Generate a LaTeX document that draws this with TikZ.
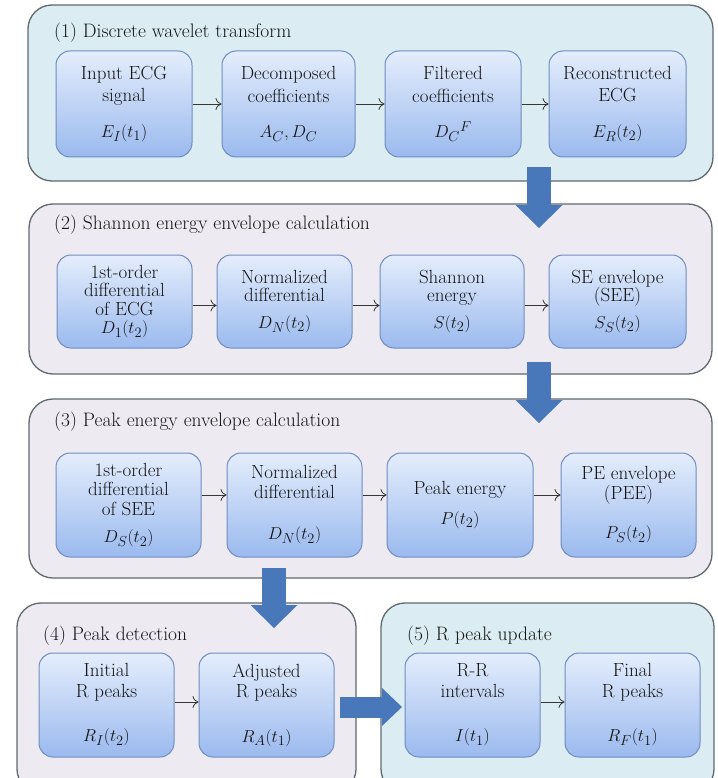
\documentclass[tikz,border=0pt]{standalone}
\usetikzlibrary{arrows.meta}
\definecolor{pblue}{RGB}{219,237,242}
\definecolor{pgray}{RGB}{237,235,241}
\definecolor{pborder}{RGB}{95,105,110}
\definecolor{btop}{RGB}{228,237,252}
\definecolor{bbot}{RGB}{155,186,238}
\definecolor{bborder}{RGB}{112,140,192}
\definecolor{barrow}{RGB}{72,120,185}
\definecolor{txt}{RGB}{20,20,20}
\begin{document}
\begin{tikzpicture}[x=1pt,y=-1pt,
 panel/.style={draw=pborder, line width=1.3pt, rounded corners=24pt, inner sep=0pt},
 bluepanel/.style={panel, fill=pblue},
 graypanel/.style={panel, fill=pgray},
 box/.style={draw=bborder, line width=1pt, rounded corners=14pt, top color=btop, bottom color=bbot, align=center, inner sep=0pt, text=txt},
 rowa/.style={box, minimum height=106pt, font=\fontsize{19}{22.5}\selectfont},
 rowb/.style={box, minimum height=93pt, font=\fontsize{19}{18.5}\selectfont},
 rowc/.style={box, minimum height=104pt, font=\fontsize{19}{19.5}\selectfont},
 rowd/.style={box, minimum height=104pt, font=\fontsize{19}{20.5}\selectfont},
 paneltitle/.style={anchor=west, inner sep=0pt, text=txt, font=\fontsize{19.5}{20}\selectfont},
 smallarrow/.style={-{To[length=6pt,width=12pt]}, line width=0.8pt, draw=txt!85},
 bigarrow/.style={draw=barrow, line width=24pt, -{Triangle[width=47pt,length=23pt,line width=0pt]}},
 sidearrow/.style={draw=barrow, line width=21pt, -{Triangle[width=38pt,length=20pt,line width=0pt]}},
]
\useasboundingbox (0,0) rectangle (717,778);
\clip (0,0) rectangle (717,778);

% panels
\node[bluepanel, minimum width=685pt, minimum height=176pt] (p1) at (370.5,93) {};
\node[graypanel, minimum width=683pt, minimum height=170pt] (p2) at (370.5,289) {};
\node[graypanel, minimum width=683pt, minimum height=179pt] (p3) at (370.5,488.5) {};
\node[graypanel, minimum width=339pt, minimum height=190pt] (p4) at (186.5,698) {};
\node[bluepanel, minimum width=333pt, minimum height=190pt] (p5) at (547.5,698) {};

% titles
\node[paneltitle] (t1) at (54,33) {(1) Discrete wavelet transform};
\node[paneltitle] (t2) at (54,225) {(2) Shannon energy envelope calculation};
\node[paneltitle] (t3) at (54,422) {(3) Peak energy envelope calculation};
\node[paneltitle] (t4) at (43,636) {(4) Peak detection};
\node[paneltitle] (t5) at (407,636) {(5) R peak update};

% row 1
\node[rowa, minimum width=136pt] (b11) at (124,104) {Input ECG\\signal\\[13pt]$E_I(t_1)$};
\node[rowa, minimum width=133pt] (b12) at (288.5,104) {Decomposed\\coefficients\\[13pt]$A_C, D_C$};
\node[rowa, minimum width=136pt] (b13) at (453,104) {Filtered\\coefficients\\[13pt]${D_C}^F$};
\node[rowa, minimum width=137pt] (b14) at (617.5,104) {Reconstructed\\ECG\\[13pt]$E_R(t_2)$};

% row 2
\node[rowb, minimum width=135pt] (b21) at (124.5,301.5) {1st-order\\differential\\of ECG\\$D_1(t_2)$};
\node[rowb, minimum width=135pt] (b22) at (284.5,301.5) {Normalized\\differential\\[8pt]$D_N(t_2)$};
\node[rowb, minimum width=144pt] (b23) at (452,301.5) {Shannon\\energy\\[8pt]$S(t_2)$};
\node[rowb, minimum width=137pt] (b24) at (617.5,301.5) {SE envelope\\(SEE)\\[8pt]$S_S(t_2)$};

% row 3
\node[rowc, minimum width=145pt] (b31) at (128.5,505) {1st-order\\differential\\of SEE\\[8pt]$D_S(t_2)$};
\node[rowc, minimum width=135pt] (b32) at (294.5,505) {Normalized\\differential\\[22pt]$D_N(t_2)$};
\node[rowc, minimum width=146pt] (b33) at (460,505) {Peak energy\\[10pt]$P(t_2)$};
\node[rowc, minimum width=135pt] (b34) at (628.5,505) {PE envelope\\(PEE)\\[20pt]$P_S(t_2)$};

% row 4/5
\node[rowd, minimum width=135pt] (b41) at (106.5,705) {Initial\\R peaks\\[24pt]$R_I(t_2)$};
\node[rowd, minimum width=135pt] (b42) at (266.5,705) {Adjusted\\R peaks\\[24pt]$R_A(t_1)$};
\node[rowd, minimum width=135pt] (b51) at (472.5,705) {R-R\\intervals\\[24pt]$I(t_1)$};
\node[rowd, minimum width=135pt] (b52) at (632.5,705) {Final\\R peaks\\[24pt]$R_F(t_1)$};

% small arrows
\draw[smallarrow] (b11) -- (b12);
\draw[smallarrow] (b12) -- (b13);
\draw[smallarrow] (b13) -- (b14);
\draw[smallarrow] ([yshift=-4pt]b21.east) -- ([yshift=-4pt]b22.west);
\draw[smallarrow] ([yshift=-4pt]b22.east) -- ([yshift=-4pt]b23.west);
\draw[smallarrow] ([yshift=-4pt]b23.east) -- ([yshift=-4pt]b24.west);
\draw[smallarrow] ([yshift=10pt]b31.east) -- ([yshift=10pt]b32.west);
\draw[smallarrow] ([yshift=10pt]b32.east) -- ([yshift=10pt]b33.west);
\draw[smallarrow] ([yshift=10pt]b33.east) -- ([yshift=10pt]b34.west);
\draw[smallarrow] ([yshift=3pt]b41.east) -- ([yshift=3pt]b42.west);
\draw[smallarrow] ([yshift=3pt]b51.east) -- ([yshift=3pt]b52.west);

% big arrows
\coordinate (a1s) at (539,167);
\coordinate (a1e) at (539,228);
\coordinate (a2s) at (539,362);
\coordinate (a2e) at (539,423);
\coordinate (a3s) at (274,568);
\coordinate (a3e) at (274,628);
\coordinate (a4s) at (340,707);
\coordinate (a4e) at (402,707);
\draw[bigarrow] (a1s) -- (a1e);
\draw[bigarrow] (a2s) -- (a2e);
\draw[bigarrow] (a3s) -- (a3e);
\draw[sidearrow] (a4s) -- (a4e);
\end{tikzpicture}
\end{document}
